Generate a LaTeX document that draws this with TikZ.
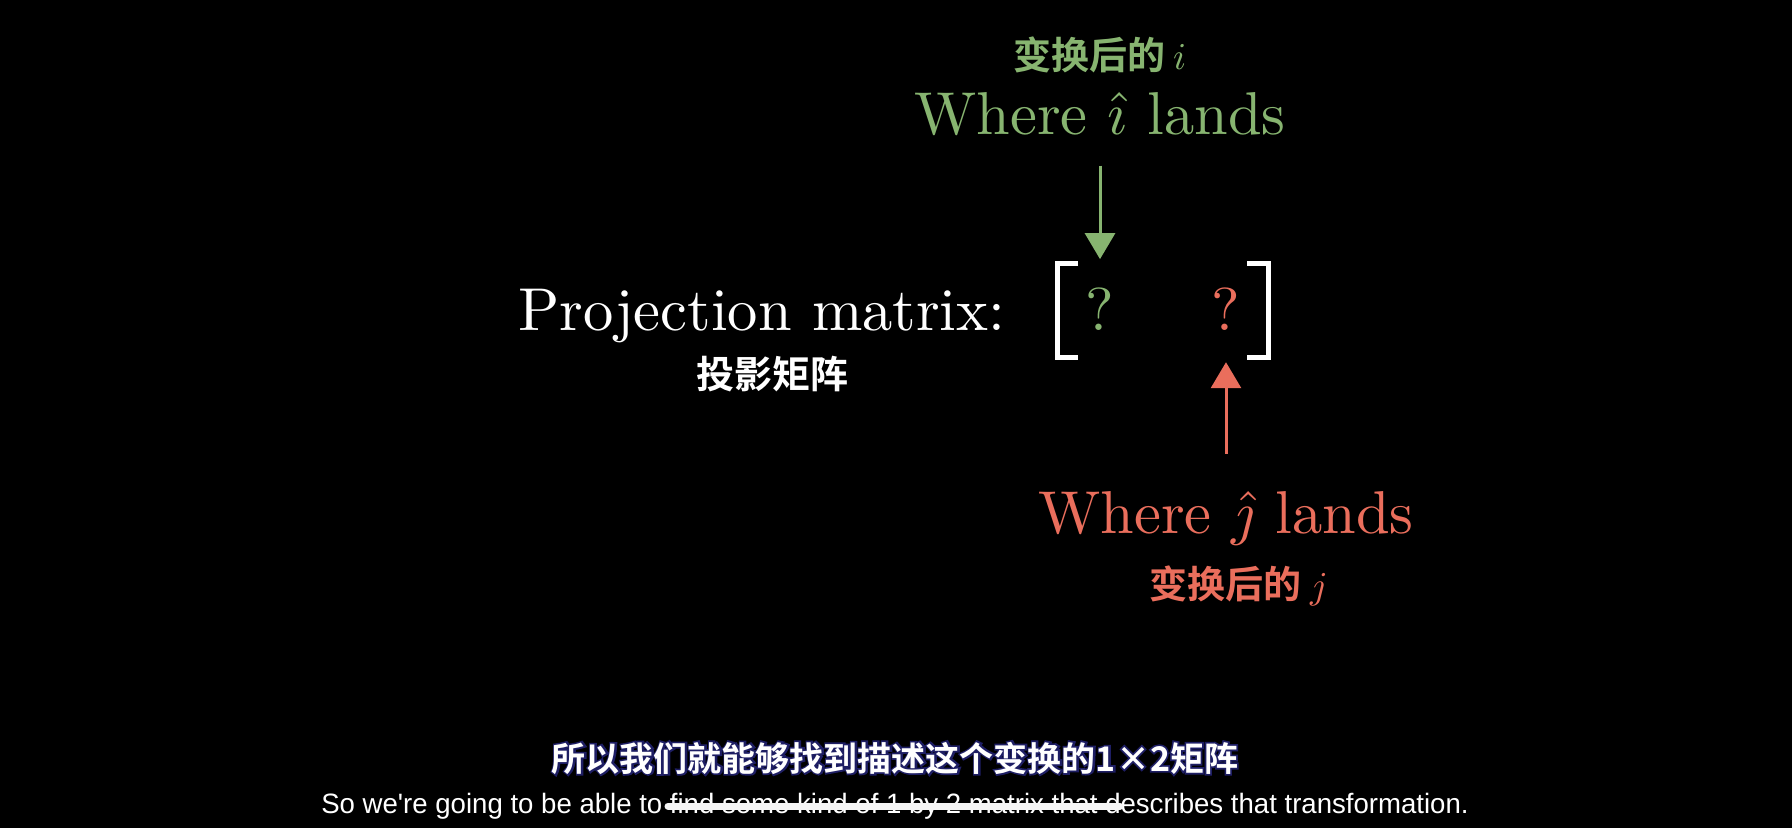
\documentclass[tikz,border=0pt]{standalone}
\usepackage{fontspec}
\newfontfamily\cjk{Noto Sans CJK SC}[BoldFont={* Bold}]
\newfontfamily\cjkglow{Noto Sans CJK SC Bold}[FakeBold=10]
\newfontfamily\lmmath{Latin Modern Math}
\newfontfamily\subfont{Liberation Sans}
\usetikzlibrary{positioning,arrows.meta,calc}
\definecolor{igreen}{RGB}{135,180,112}
\definecolor{jred}{RGB}{234,110,92}
\definecolor{subnavy}{RGB}{30,30,100}

\begin{document}
\begin{tikzpicture}[
    x=1pt, y=-1pt,
    >=Stealth,
    tex/.style={scale=6.05, inner sep=0pt, font=\fontsize{10}{12}\selectfont},
    cjklbl/.style={inner sep=0pt, font=\cjk\bfseries\fontsize{38}{40}\selectfont},
    vecarrow/.style={line width=3pt, -{Triangle[width=30pt,length=26pt]}},
    bracketline/.style={draw=white, line width=5pt},
    subcn/.style={inner sep=0pt, font=\cjk\bfseries\fontsize{34}{36}\selectfont},
    suben/.style={inner sep=0pt, text=white, xscale=0.985, font=\subfont\fontsize{28}{32}\selectfont}
]
\fill[black] (0,0) rectangle (1792,828);
\useasboundingbox (0,0) rectangle (1792,828);

% --- i hat ---
\node[tex, text=igreen, anchor=base] (wherei) at (1100,134) {Where $\hat{\imath}$ lands};
\node[cjklbl, text=igreen, above=18pt of wherei] (bhi) {变换后的 {\lmmath 𝑖}};

% --- matrix ---
\node[tex, text=white, anchor=base] (proj) at (762,330) {Projection matrix:};
\node[cjklbl, text=white, below=12pt of proj, xshift=10pt] (tyjz) {投影矩阵};

\node[tex, text=igreen, anchor=base] (qi) at (1100,330) {?};
\node[tex, text=jred, anchor=base] (qj) at (1226,330) {?};
\draw[bracketline] (1078,263) -- (1057,263) -- (1057,357) -- (1078,357);
\draw[bracketline] (1247,263) -- (1268,263) -- (1268,357) -- (1247,357);

% --- j hat ---
\node[tex, text=jred, anchor=base] (wherej) at (1226,533) {Where $\hat{\jmath}$ lands};
\node[cjklbl, text=jred, below=20pt of wherej, xshift=12pt] (bhj) {变换后的 {\lmmath 𝑗}};

\draw[vecarrow, igreen] ([yshift=-29pt]wherei.south) -- ([yshift=27pt]qi.north);
\draw[vecarrow, jred] ([yshift=36pt]wherej.north) -- ([yshift=-31pt]qj.south);

% --- subtitles ---
\node[subcn, text=subnavy, font=\cjkglow\fontsize{34}{36}\selectfont] (subglow) at (895,758) {所以我们就能够找到描述这个变换的1×2矩阵};
\node[subcn, text=white] (subzh) at (subglow) {所以我们就能够找到描述这个变换的1×2矩阵};
\node[suben] (suben) at (895,806) {So we're going to be able to find some kind of 1 by 2 matrix that describes that transformation.};
\draw[line width=7pt, line cap=round, gray!8] (668,806) -- (1120,806);

\end{tikzpicture}
\end{document}
